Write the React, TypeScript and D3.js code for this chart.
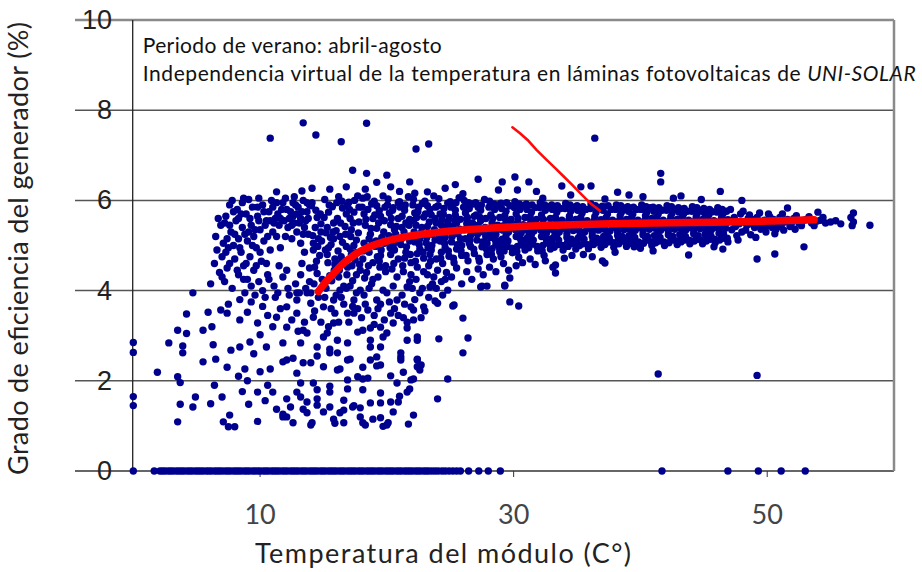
import React from 'react';
import * as d3 from 'd3';

const W = 922;
const H = 572;

const yTicks = [0, 2, 4, 6, 8, 10];
const xTicks = [10, 30, 50];

// readings lying on the zero line (module temperature only)
const zeroTemps = [
  0, 1.65, 2.1, 2.3, 2.5, 2.75, 2.95, 3.15, 3.4, 3.6, 3.8, 4.0, 4.25, 4.45, 4.65, 4.9, 5.1, 5.3, 5.5, 5.75,
  5.95, 6.15, 6.4, 6.6, 6.8, 7.0, 7.25, 7.45, 7.65, 7.9, 8.1, 8.3, 8.5, 8.75, 8.95, 9.15, 9.4, 9.6, 9.8,
  10.0, 10.25, 10.45, 10.65, 10.9, 11.1, 11.3, 11.5, 11.75, 11.95, 12.15, 12.4, 12.6, 12.8, 13.0, 13.25,
  13.45, 13.65, 13.9, 14.1, 14.3, 14.5, 14.75, 14.95, 15.15, 15.4, 15.6, 15.8, 16.0, 16.25, 16.45, 16.65,
  16.9, 17.1, 17.3, 17.5, 17.75, 17.95, 18.15, 18.4, 18.6, 18.8, 19.0, 19.25, 19.45, 19.65, 19.9, 20.1,
  20.3, 20.5, 20.75, 20.95, 21.15, 21.4, 21.6, 21.8, 22.0, 22.25, 22.45, 22.65, 22.9, 23.1, 23.3, 23.55,
  23.8, 24.05, 24.35, 24.6, 24.9, 25.2, 25.5, 25.8, 26.45, 27.25, 28.0, 28.95, 41.7, 46.9, 49.3, 51.1, 53.0,
];

// [temperature, efficiency]
const lowScatter = [
  [0, 2.85], [0, 2.63], [0, 1.65], [0, 1.45],
  [1.9, 2.19], [3.5, 2.09], [3.7, 1.96], [3.7, 1.48], [4.7, 1.42], [3.5, 1.09], [4.9, 1.64], [6.1, 1.49],
  [7.0, 1.64], [7.1, 1.09], [7.5, 0.98], [8.0, 0.98], [7.6, 1.24], [5.5, 2.42], [6.5, 2.48], [7.4, 2.3],
  [8.6, 1.76], [8.8, 2.26], [9.8, 1.75], [9.1, 1.48], [9.8, 1.1], [10.4, 1.56], [11.3, 1.37], [11.8, 1.26],
  [12.6, 1.07], [13.4, 1.37], [14.1, 1.07], [14.5, 1.6], [15.0, 1.31], [15.8, 1.15], [16.6, 1.07],
  [16.6, 1.35], [17.4, 1.45], [18.1, 1.07], [18.9, 1.15], [19.7, 0.99], [20.1, 1.07], [20.5, 1.31],
  [21.7, 1.04], [22.1, 1.24], [21.0, 1.66], [21.8, 1.82], [18.7, 1.51], [16.9, 1.82], [15.5, 1.88],
  [13.7, 1.53], [12.9, 1.75], [12.1, 1.6], [10.8, 2.26], [11.8, 2.42], [12.6, 2.5], [13.4, 2.4],
  [14.5, 2.55], [15.5, 2.7], [16.3, 2.26], [17.1, 2.48], [18.1, 2.04], [19.2, 2.33], [20.3, 2.11],
  [21.3, 2.19], [22.4, 2.48], [22.7, 2.35], [22.1, 2.04], [11.8, 1.2], [14.0, 1.02], [15.9, 1.06],
  [17.9, 1.2], [18.3, 1.02], [19.5, 1.18], [20.0, 1.02], [24.0, 1.6], [21.6, 1.75], [20.9, 1.53],
  [20.3, 1.53], [19.5, 1.51], [17.9, 1.4], [17.3, 1.42], [16.3, 1.29], [15.5, 1.42], [14.5, 1.46],
  [13.7, 1.29], [13.2, 1.64], [12.4, 1.42], [12.1, 1.2], [16.6, 1.57], [19.5, 1.73], [18.1, 1.8],
  [15.5, 1.75], [14.5, 1.8], [16.9, 2.02], [17.7, 2.09], [18.5, 2.06], [20.8, 1.95], [21.9, 2.02],
  [18.1, 2.3], [19.5, 2.35], [21.1, 2.46], [22.4, 2.31], [18.7, 2.46], [16.9, 2.46], [16.1, 2.24],
  [15.0, 2.31], [14.0, 2.4], [12.9, 2.17], [12.1, 2.46], [13.2, 1.95], [14.2, 1.95], [24.8, 2.04],
  [9.0, 2.0], [10.0, 2.2], [9.5, 2.6], [8.3, 2.1], [10.6, 1.9], [11.0, 1.75], [6.4, 1.9], [41.4, 2.15],
  [49.2, 2.12],
];

const midScatter = [
  [6.9, 3.57], [7.4, 3.5], [8.4, 3.35], [9.0, 3.52], [9.8, 3.28], [7.7, 2.68], [8.4, 2.75], [9.2, 2.86],
  [10.0, 3.02], [10.5, 2.75], [11.3, 3.41], [12.1, 3.19], [11.8, 2.84], [12.9, 3.5], [13.4, 3.12],
  [14.0, 3.72], [14.5, 2.75], [15.3, 3.06], [15.8, 3.28], [16.1, 2.62], [16.9, 2.84], [17.4, 3.5],
  [18.1, 3.12], [18.7, 2.75], [19.2, 2.53], [19.7, 2.97], [20.5, 3.28], [21.1, 2.62], [21.6, 2.9],
  [22.1, 3.57], [22.4, 2.97], [22.6, 2.24], [22.9, 3.64], [3.5, 3.12], [4.2, 3.48], [4.7, 3.95],
  [5.9, 3.52], [6.1, 4.15], [4.2, 3.05], [5.5, 3.12], [6.2, 3.2], [6.3, 2.8], [2.8, 2.84], [3.9, 2.77],
  [3.9, 2.62], [13.2, 2.84], [13.7, 3.06], [15.0, 2.97], [15.5, 2.62], [16.1, 2.9], [17.7, 3.08],
  [18.7, 2.9], [19.5, 2.75], [20.0, 3.06], [21.1, 2.53], [22.4, 2.9], [22.4, 2.46], [19.5, 3.19],
  [18.7, 3.17], [21.6, 3.17], [22.1, 3.35], [12.1, 3.64], [12.9, 3.79], [13.7, 3.95], [14.2, 3.41],
  [15.0, 3.64], [15.8, 3.79], [16.3, 4.01], [16.9, 3.5], [17.4, 3.79], [17.9, 4.01], [18.5, 3.57],
  [19.2, 3.79], [19.7, 4.01], [20.3, 3.5], [20.8, 3.79], [21.6, 4.08], [21.9, 3.64], [22.6, 3.95],
  [23.4, 4.08], [24.0, 3.72], [24.8, 4.01], [26.0, 3.39], [26.4, 2.95], [24.1, 2.93], [26.0, 2.62],
  [29.7, 3.75], [30.4, 3.66], [27.5, 4.1], [29.3, 4.1], [25.2, 3.66], [14.6, 3.85], [15.2, 4.05],
  [15.6, 3.6], [16.0, 3.9], [16.6, 3.7], [17.1, 4.1], [17.7, 3.6], [18.2, 3.9], [18.8, 4.15], [19.0, 3.45],
  [19.5, 3.7], [20.0, 3.95], [20.6, 3.6], [21.2, 3.9], [21.3, 3.4], [21.8, 4.2], [22.2, 3.8], [23.0, 3.55],
  [23.7, 4.3], [24.4, 3.9], [23.8, 3.77], [25.3, 3.68], [14.3, 3.55], [14.8, 3.3], [15.1, 3.85], [15.4, 3.2],
  [15.9, 3.5], [16.2, 3.3], [16.4, 3.85], [16.8, 4.05], [17.0, 3.3], [17.3, 3.65], [17.6, 3.95], [18.0, 3.4],
  [18.3, 3.7], [18.6, 4.05], [19.0, 3.25], [19.3, 3.6], [19.8, 3.35], [20.2, 3.75], [20.5, 4.1], [20.9, 3.45],
  [21.4, 3.7], [21.6, 3.3], [22.0, 4.05], [22.7, 3.4], [23.3, 3.85], [23.9, 4.05], [24.6, 4.25], [13.5, 3.3],
  [13.0, 3.1], [12.5, 3.35], [11.6, 3.6], [11.0, 3.2], [10.6, 3.45], [10.2, 3.65],
];

const leftCloud = [
  [6.4, 4.6], [6.6, 4.9], [6.5, 5.2], [6.8, 4.4], [6.9, 5.45], [7.0, 4.75], [7.1, 5.05], [7.2, 4.2],
  [7.3, 5.65], [7.5, 4.95], [7.4, 4.5], [7.6, 5.9], [7.7, 5.3], [7.8, 4.05], [7.9, 5.0], [7.8, 6.0],
  [8.0, 4.7], [8.1, 5.55], [8.2, 5.8], [8.3, 4.35], [8.3, 5.15], [8.5, 4.85], [8.6, 5.95], [8.6, 5.4],
  [8.7, 4.55], [8.8, 3.95], [8.9, 5.7], [9.0, 5.1], [9.0, 4.25], [9.1, 6.02], [9.2, 4.75], [9.3, 5.45],
  [9.4, 5.85], [9.5, 4.45], [9.5, 5.2], [9.6, 3.9], [9.7, 4.95], [9.8, 5.65], [9.9, 6.05], [9.9, 4.2],
  [10.0, 5.35], [10.1, 4.65], [10.2, 5.9], [10.3, 5.1], [10.4, 3.85], [10.5, 5.55], [10.6, 4.35],
  [10.7, 5.75], [10.8, 4.9], [10.9, 6.0], [11.0, 5.3], [11.1, 4.1], [11.2, 5.6], [11.3, 5.95], [11.4, 3.95],
  [11.5, 5.45], [11.7, 5.8], [11.8, 4.3], [11.9, 5.55], [12.0, 6.05], [12.2, 5.4], [12.3, 3.9], [12.4, 5.75],
  [12.6, 5.95], [12.7, 5.5], [12.8, 4.15], [12.9, 5.3], [13.0, 5.85], [13.1, 3.95], [13.2, 5.6], [13.4, 6.0],
  [13.5, 5.4], [13.6, 4.05], [13.7, 5.75], [13.8, 5.25], [13.9, 4.5], [12.1, 4.45], [11.6, 4.95],
  [10.2, 4.0], [9.3, 3.75], [8.4, 3.8], [7.5, 3.7], [13.3, 4.6], [12.5, 5.15], [6.7, 5.6], [7.0, 4.3],
  [7.2, 5.5], [7.6, 4.6], [7.9, 5.75], [8.0, 5.25], [8.4, 4.95], [8.5, 5.7], [8.8, 5.25], [8.9, 4.6],
  [9.2, 5.6], [9.4, 5.0], [9.7, 4.55], [9.8, 5.85], [10.0, 4.85], [10.3, 5.75], [10.6, 5.2], [10.8, 5.55],
  [11.0, 5.85], [11.3, 5.2], [11.5, 4.55], [11.8, 5.95], [12.0, 5.2], [12.3, 5.6], [12.9, 5.7], [13.2, 5.05],
  [13.6, 5.55], [13.9, 5.9], [8.2, 4.45], [9.6, 5.35], [10.5, 4.6], [7.4, 5.15], [8.7, 6.05], [11.4, 5.7],
  [12.7, 6.08], [13.5, 4.85], [12.1, 5.8], [12.5, 5.45], [12.8, 5.9], [13.1, 5.5], [13.3, 5.75], [13.7, 5.95],
  [13.8, 5.6], [13.4, 5.25], [12.6, 5.65], [11.6, 5.6], [11.1, 5.5], [10.4, 5.45], [9.9, 5.55], [9.1, 5.3],
  [8.3, 5.6], [7.6, 5.45], [7.3, 4.85], [8.7, 4.25], [9.3, 4.1], [10.7, 4.25], [11.2, 3.85], [12.2, 4.05],
  [12.9, 3.95], [13.2, 4.35], [13.9, 4.2], [14.0, 3.95],
];

const mainBand = [
  [14.1, 5.95], [14.5, 5.62], [14.8, 5.3], [14.2, 5.05], [14.7, 4.78], [14.3, 4.52], [14.9, 4.25], [14.4, 5.78], [14.6, 5.15], [14.2, 4.9], [14.8, 5.48], [14.5, 4.38],
  [15.1, 6.02], [15.4, 5.74], [15.8, 5.5], [15.2, 5.28], [15.6, 5.02], [15.3, 4.8], [15.9, 4.58], [15.5, 4.33], [15.1, 4.1], [15.7, 5.86], [15.3, 5.4], [15.8, 5.15], [15.4, 4.95], [15.9, 4.7],
  [16.2, 6.08], [16.5, 5.83], [16.1, 5.6], [16.7, 5.42], [16.3, 5.2], [16.8, 4.98], [16.4, 4.75], [16.9, 4.52], [16.2, 4.3], [16.6, 4.1], [16.0, 5.33], [16.5, 5.07], [16.8, 5.7], [16.3, 4.62], [16.9, 5.9],
  [17.0, 5.96], [17.4, 5.74], [17.8, 5.52], [17.2, 5.35], [17.6, 5.12], [17.1, 4.92], [17.5, 4.68], [17.9, 4.45], [17.3, 4.22], [17.7, 6.1], [17.4, 5.0], [17.8, 5.85], [17.1, 5.6], [17.6, 4.35], [17.2, 4.8],
  [18.1, 6.05], [18.5, 5.8], [18.9, 5.6], [18.3, 5.45], [18.7, 5.25], [18.2, 5.05], [18.6, 4.85], [18.9, 4.62], [18.4, 4.4], [18.8, 5.92], [18.2, 5.7], [18.6, 5.15], [18.4, 4.95], [18.9, 4.25], [18.1, 4.7],
  [19.0, 5.98], [19.4, 5.77], [19.8, 5.55], [19.2, 5.38], [19.6, 5.18], [19.1, 4.98], [19.5, 4.78], [19.9, 4.55], [19.3, 4.3], [19.7, 6.1], [19.5, 5.65], [19.2, 5.88], [19.8, 5.05], [19.4, 4.65], [19.9, 4.42],
  [20.1, 6.03], [20.5, 5.84], [20.9, 5.6], [20.3, 5.46], [20.7, 5.25], [20.2, 5.1], [20.6, 4.9], [20.9, 4.7], [20.4, 4.48], [20.8, 4.3], [20.2, 5.72], [20.6, 5.35], [20.3, 4.8], [20.9, 5.95], [20.5, 5.0],
  [21.0, 5.97], [21.4, 5.78], [21.8, 5.58], [21.2, 5.4], [21.6, 5.2], [21.1, 5.02], [21.5, 4.85], [21.9, 4.62], [21.3, 4.42], [21.7, 6.08], [21.5, 5.5], [21.2, 5.65], [21.8, 5.1], [21.4, 4.72], [21.9, 4.35],
  [22.1, 6.02], [22.5, 5.85], [22.9, 5.63], [22.3, 5.45], [22.7, 5.28], [22.2, 5.08], [22.6, 4.92], [22.9, 4.72], [22.4, 4.52], [22.8, 5.93], [22.2, 5.72], [22.6, 5.15], [22.4, 4.82], [22.9, 4.42], [22.1, 5.55],
  [23.0, 5.98], [23.4, 5.8], [23.8, 5.6], [23.2, 5.42], [23.6, 5.25], [23.1, 5.06], [23.5, 4.9], [23.9, 4.7], [23.3, 4.55], [23.7, 6.1], [23.5, 5.68], [23.2, 5.88], [23.8, 5.12], [23.4, 4.8], [23.9, 5.5],
  [24.1, 6.04], [24.5, 5.82], [24.9, 5.62], [24.3, 5.45], [24.7, 5.3], [24.2, 5.1], [24.6, 4.95], [24.9, 4.76], [24.4, 4.6], [24.8, 5.94], [24.2, 5.7], [24.6, 5.18], [24.3, 4.85], [24.8, 5.52], [24.5, 5.38],
  [25.0, 5.97], [25.4, 5.78], [25.8, 5.58], [25.2, 5.42], [25.6, 5.26], [25.1, 5.08], [25.5, 4.92], [25.9, 4.78], [25.3, 4.62], [25.7, 6.06], [25.4, 5.67], [25.2, 5.88], [25.8, 5.15], [25.5, 5.5], [25.9, 5.0],
  [26.1, 6.0], [26.5, 5.82], [26.9, 5.65], [26.3, 5.48], [26.7, 5.32], [26.2, 5.15], [26.6, 4.98], [26.9, 4.82], [26.4, 4.66], [26.8, 5.92], [26.2, 5.72], [26.6, 5.22], [26.3, 5.58], [26.8, 5.4], [26.5, 5.05],
  [27.0, 5.95], [27.4, 5.78], [27.8, 5.6], [27.2, 5.45], [27.6, 5.3], [27.1, 5.12], [27.5, 4.97], [27.9, 4.8], [27.3, 4.65], [27.7, 6.02], [27.4, 5.55], [27.2, 5.85], [27.8, 5.2], [27.5, 5.38], [27.9, 5.05],
  [28.1, 5.98], [28.5, 5.8], [28.9, 5.62], [28.3, 5.5], [28.7, 5.35], [28.2, 5.18], [28.6, 5.02], [28.9, 4.86], [28.4, 4.7], [28.8, 5.9], [28.2, 5.68], [28.6, 5.25], [28.4, 5.42], [28.8, 5.1], [28.3, 4.93],
  [29.0, 5.94], [29.4, 5.76], [29.8, 5.58], [29.2, 5.44], [29.6, 5.3], [29.1, 5.14], [29.5, 4.98], [29.9, 4.84], [29.3, 5.66], [29.7, 5.88], [29.4, 5.22], [29.2, 5.02], [29.8, 5.4], [29.5, 5.52], [29.0, 4.75],
  [30.1, 5.97], [30.5, 5.8], [30.9, 5.62], [30.3, 5.5], [30.7, 5.36], [30.2, 5.2], [30.6, 5.04], [30.9, 4.9], [30.4, 4.74], [30.8, 5.88], [30.2, 5.7], [30.6, 5.28], [30.4, 5.44], [30.8, 5.12], [30.3, 4.98],
  [31.0, 5.92], [31.4, 5.74], [31.8, 5.58], [31.2, 5.45], [31.6, 5.32], [31.1, 5.18], [31.5, 5.03], [31.9, 4.88], [31.3, 5.64], [31.7, 5.84], [31.4, 5.24], [31.2, 4.95], [31.8, 5.4], [31.5, 5.5], [31.0, 5.1],
  [32.1, 5.95], [32.5, 5.78], [32.9, 5.6], [32.3, 5.48], [32.7, 5.35], [32.2, 5.2], [32.6, 5.06], [32.9, 4.92], [32.4, 4.78], [32.8, 5.86], [32.2, 5.68], [32.6, 5.28], [32.4, 5.42], [32.8, 5.14], [32.3, 5.0],
  [33.0, 5.9], [33.4, 5.74], [33.8, 5.56], [33.2, 5.44], [33.6, 5.3], [33.1, 5.16], [33.5, 5.02], [33.9, 4.9], [33.3, 5.62], [33.7, 5.82], [33.4, 5.22], [33.2, 4.96], [33.8, 5.38], [33.5, 5.48], [33.0, 5.08],
  [34.1, 5.93], [34.5, 5.76], [34.9, 5.58], [34.3, 5.46], [34.7, 5.33], [34.2, 5.18], [34.6, 5.05], [34.9, 4.92], [34.4, 5.65], [34.8, 5.85], [34.2, 5.26], [34.6, 5.4], [34.4, 5.1], [34.8, 5.5], [34.3, 4.98],
  [35.0, 5.88], [35.4, 5.72], [35.8, 5.55], [35.2, 5.44], [35.6, 5.3], [35.1, 5.17], [35.5, 5.04], [35.9, 4.93], [35.3, 5.62], [35.7, 5.8], [35.4, 5.24], [35.2, 5.0], [35.8, 5.38], [35.5, 5.48], [35.0, 5.1],
  [36.1, 5.92], [36.5, 5.74], [36.9, 5.57], [36.3, 5.46], [36.7, 5.34], [36.2, 5.2], [36.6, 5.08], [36.9, 4.96], [36.4, 5.64], [36.8, 5.84], [36.2, 5.28], [36.6, 5.42], [36.4, 5.12], [36.8, 5.5], [36.3, 5.02],
  [37.0, 5.87], [37.4, 5.7], [37.8, 5.56], [37.2, 5.44], [37.6, 5.32], [37.1, 5.2], [37.5, 5.08], [37.9, 4.96], [37.3, 5.62], [37.7, 5.8], [37.4, 5.26], [37.2, 5.02], [37.8, 5.4], [37.5, 5.5], [37.0, 5.14],
  [38.1, 5.9], [38.5, 5.74], [38.9, 5.58], [38.3, 5.46], [38.7, 5.35], [38.2, 5.22], [38.6, 5.1], [38.9, 4.98], [38.4, 5.66], [38.8, 5.83], [38.2, 5.3], [38.6, 5.44], [38.4, 5.15], [38.8, 5.52], [38.3, 5.04],
  [39.0, 5.86], [39.4, 5.7], [39.8, 5.56], [39.2, 5.45], [39.6, 5.34], [39.1, 5.22], [39.5, 5.1], [39.9, 4.98], [39.3, 5.62], [39.7, 5.8], [39.4, 5.28], [39.2, 5.05], [39.8, 5.4], [39.5, 5.5], [39.0, 5.16],
  [40.1, 5.9], [40.5, 5.74], [40.9, 5.6], [40.3, 5.48], [40.7, 5.36], [40.2, 5.24], [40.6, 5.12], [40.9, 5.0], [40.4, 5.66], [40.8, 5.84], [40.2, 5.32], [40.6, 5.44], [40.4, 5.18], [40.8, 5.52],
  [41.0, 5.85], [41.4, 5.7], [41.8, 5.56], [41.2, 5.45], [41.6, 5.34], [41.1, 5.22], [41.5, 5.1], [41.9, 5.0], [41.3, 5.62], [41.7, 5.78], [41.4, 5.28], [41.2, 5.06], [41.8, 5.4], [41.5, 5.5],
  [42.1, 5.88], [42.5, 5.72], [42.9, 5.58], [42.3, 5.47], [42.7, 5.36], [42.2, 5.24], [42.6, 5.12], [42.9, 5.02], [42.4, 5.64], [42.8, 5.8], [42.2, 5.32], [42.6, 5.44], [42.4, 5.18], [42.8, 5.52],
  [43.0, 5.84], [43.4, 5.7], [43.8, 5.56], [43.2, 5.45], [43.6, 5.35], [43.1, 5.24], [43.5, 5.12], [43.9, 5.04], [43.3, 5.62], [43.7, 5.76], [43.4, 5.28], [43.2, 5.08], [43.8, 5.4], [43.5, 5.5],
  [44.1, 5.86], [44.5, 5.72], [44.9, 5.58], [44.3, 5.48], [44.7, 5.37], [44.2, 5.26], [44.6, 5.14], [44.9, 5.04], [44.4, 5.64], [44.8, 5.78], [44.2, 5.34], [44.6, 5.44], [44.4, 5.2], [44.8, 5.52],
  [45.0, 5.82], [45.4, 5.68], [45.8, 5.55], [45.2, 5.45], [45.6, 5.35], [45.1, 5.25], [45.5, 5.14], [45.9, 5.06], [45.3, 5.6], [45.7, 5.75], [45.4, 5.3], [45.2, 5.1], [45.8, 5.4], [45.5, 5.5],
  [46.1, 5.84], [46.5, 5.7], [46.9, 5.57], [46.3, 5.47], [46.7, 5.38], [46.2, 5.27], [46.6, 5.16], [46.9, 5.08], [46.4, 5.62], [46.8, 5.76], [46.2, 5.36], [46.6, 5.46], [46.4, 5.22],
];

// extra readings filling the core of the dense band
const mainCore = [
  [14.05, 5.88], [14.35, 5.4], [14.75, 5.7], [14.15, 5.22], [14.55, 4.98], [14.85, 5.1], [14.45, 4.65], [14.25, 4.15],
  [15.05, 5.62], [15.45, 5.9], [15.75, 5.3], [15.15, 4.9], [15.55, 5.18], [15.85, 4.45], [15.35, 4.62], [15.65, 4.22],
  [16.05, 5.95], [16.35, 5.5], [16.75, 5.25], [16.15, 4.88], [16.55, 4.66], [16.85, 4.35], [16.45, 5.98], [16.25, 4.45],
  [17.05, 5.8], [17.35, 5.5], [17.75, 5.28], [17.15, 5.2], [17.55, 4.84], [17.85, 4.58], [17.45, 6.0], [17.25, 4.55],
  [18.05, 5.85], [18.35, 5.58], [18.75, 5.38], [18.15, 4.88], [18.55, 4.55], [18.85, 5.05], [18.45, 6.08], [18.25, 4.28],
  [19.05, 5.68], [19.35, 5.5], [19.75, 5.3], [19.15, 5.1], [19.55, 4.9], [19.85, 5.85], [19.45, 4.52], [19.25, 4.75],
  [20.05, 5.9], [20.35, 5.6], [20.75, 5.42], [20.15, 5.22], [20.55, 4.6], [20.85, 5.08], [20.45, 5.78], [20.25, 4.95],
  [21.05, 5.85], [21.35, 5.3], [21.75, 5.45], [21.15, 5.15], [21.55, 4.97], [21.85, 4.8], [21.45, 5.9], [21.25, 4.55],
  [22.05, 5.9], [22.35, 5.62], [22.75, 5.4], [22.15, 5.3], [22.55, 5.02], [22.85, 4.85], [22.45, 5.75], [22.25, 4.65],
  [23.05, 5.7], [23.35, 5.52], [23.75, 5.35], [23.15, 5.18], [23.55, 5.0], [23.85, 5.85], [23.45, 4.65], [23.25, 4.95],
  [24.05, 5.88], [24.35, 5.58], [24.75, 5.42], [24.15, 5.22], [24.55, 5.05], [24.85, 4.88], [24.45, 5.7], [24.25, 4.72],
  [25.05, 5.85], [25.35, 5.55], [25.75, 5.36], [25.15, 5.2], [25.55, 5.02], [25.85, 4.88], [25.45, 5.95], [25.25, 4.72],
  [26.05, 5.85], [26.35, 5.62], [26.75, 5.5], [26.15, 5.35], [26.55, 5.12], [26.85, 4.92], [26.45, 5.95], [26.25, 4.78],
  [27.05, 5.68], [27.35, 5.62], [27.75, 5.4], [27.15, 5.25], [27.55, 5.08], [27.85, 4.92], [27.45, 5.9], [27.25, 4.72],
  [28.05, 5.85], [28.35, 5.6], [28.75, 5.45], [28.15, 5.3], [28.55, 5.12], [28.85, 4.96], [28.45, 5.92], [28.25, 4.8],
  [29.05, 5.82], [29.35, 5.58], [29.75, 5.48], [29.15, 5.34], [29.55, 5.1], [29.85, 4.94], [29.45, 5.95], [29.25, 4.88],
  [30.05, 5.84], [30.35, 5.6], [30.75, 5.46], [30.15, 5.35], [30.55, 5.14], [30.85, 4.98], [30.45, 5.92], [30.25, 4.86],
  [31.05, 5.8], [31.35, 5.55], [31.75, 5.48], [31.15, 5.32], [31.55, 5.12], [31.85, 4.98], [31.45, 5.9], [31.25, 5.05],
  [32.05, 5.84], [32.35, 5.58], [32.75, 5.45], [32.15, 5.34], [32.55, 5.16], [32.85, 5.02], [32.45, 5.9], [32.25, 4.88],
  [33.05, 5.8], [33.35, 5.52], [33.75, 5.46], [33.15, 5.34], [33.55, 5.12], [33.85, 5.0], [33.45, 5.88], [33.25, 5.22],
  [34.05, 5.82], [34.35, 5.56], [34.75, 5.42], [34.15, 5.36], [34.55, 5.14], [34.85, 5.02], [34.45, 5.9], [34.25, 5.06],
  [35.05, 5.78], [35.35, 5.52], [35.75, 5.45], [35.15, 5.34], [35.55, 5.14], [35.85, 5.02], [35.45, 5.86], [35.25, 5.24],
  [36.05, 5.82], [36.35, 5.55], [36.75, 5.44], [36.15, 5.36], [36.55, 5.16], [36.85, 5.04], [36.45, 5.88], [36.25, 5.1],
  [37.05, 5.78], [37.35, 5.52], [37.75, 5.46], [37.15, 5.36], [37.55, 5.16], [37.85, 5.06], [37.45, 5.88], [37.25, 5.1],
  [38.05, 5.8], [38.35, 5.56], [38.75, 5.42], [38.15, 5.38], [38.55, 5.2], [38.85, 5.08], [38.45, 5.88], [38.25, 5.12],
  [39.05, 5.76], [39.35, 5.52], [39.75, 5.46], [39.15, 5.36], [39.55, 5.18], [39.85, 5.08], [39.45, 5.85], [39.25, 5.12],
  [40.05, 5.8], [40.35, 5.56], [40.75, 5.44], [40.15, 5.38], [40.55, 5.2], [40.85, 5.08], [40.45, 5.86], [40.25, 5.05],
  [41.05, 5.76], [41.35, 5.52], [41.75, 5.46], [41.15, 5.38], [41.55, 5.18], [41.85, 5.08], [41.45, 5.84], [41.25, 5.14],
  [42.05, 5.78], [42.35, 5.56], [42.75, 5.46], [42.15, 5.4], [42.55, 5.2], [42.85, 5.1], [42.45, 5.86], [42.25, 5.06],
  [43.05, 5.74], [43.35, 5.52], [43.75, 5.46], [43.15, 5.38], [43.55, 5.2], [43.85, 5.12], [43.45, 5.82], [43.25, 5.16],
  [44.05, 5.76], [44.35, 5.56], [44.75, 5.46], [44.15, 5.4], [44.55, 5.22], [44.85, 5.12], [44.45, 5.84], [44.25, 5.1],
  [45.05, 5.72], [45.35, 5.52], [45.75, 5.46], [45.15, 5.38], [45.55, 5.22], [45.85, 5.14], [45.45, 5.8], [45.25, 5.18],
  [46.05, 5.74], [46.35, 5.56], [46.75, 5.48], [46.15, 5.42], [46.55, 5.26], [46.85, 5.16], [46.45, 5.8], [46.25, 5.12],
];

const bandFringe = [
  [22.3, 4.25], [22.8, 4.05], [23.2, 4.35], [23.6, 4.15], [24.0, 4.45], [24.3, 4.2], [24.7, 4.4], [25.1, 4.3],
  [25.5, 4.5], [25.9, 4.15], [26.3, 4.42], [26.7, 4.25], [27.2, 4.48], [27.6, 4.35], [28.1, 4.52], [28.6, 4.42],
  [29.2, 4.6], [29.6, 4.45], [30.2, 4.55], [30.7, 4.62], [31.3, 4.7], [31.7, 4.58], [32.5, 4.66], [33.1, 4.52],
  [33.3, 4.39], [33.3, 4.57], [34.0, 4.72], [34.6, 4.78], [35.5, 4.8], [36.2, 4.75], [37.0, 4.66], [37.2, 4.61],
  [38.0, 4.85], [39.5, 4.97], [40.0, 4.94], [41.0, 4.88], [43.8, 4.79], [45.8, 4.97], [46.5, 4.92], [49.2, 4.7],
  [50.6, 4.81], [52.9, 4.97], [27.4, 4.08], [27.9, 4.1], [29.3, 4.12], [29.7, 4.28],
];

const tailBand = [
  [47.1, 5.8], [47.4, 5.62], [47.8, 5.48], [47.2, 5.35], [47.6, 5.22], [47.9, 5.7], [47.3, 5.52], [47.7, 5.12],
  [48.1, 5.76], [48.5, 5.6], [48.9, 5.46], [48.3, 5.34], [48.7, 5.24], [48.2, 5.52], [48.6, 5.68], [49.0, 5.4],
  [49.4, 5.72], [49.8, 5.56], [49.2, 5.62], [49.6, 5.44], [49.9, 5.3], [49.3, 5.5], [49.1, 5.18], [50.1, 5.7],
  [50.5, 5.58], [50.9, 5.46], [50.3, 5.5], [50.7, 5.36], [50.2, 5.64], [50.6, 5.26], [51.0, 5.62], [51.4, 5.52],
  [51.8, 5.42], [51.2, 5.7], [51.6, 5.58], [51.9, 5.48], [51.3, 5.34], [52.1, 5.6], [52.5, 5.5], [52.9, 5.56],
  [52.3, 5.66], [52.7, 5.44], [52.2, 5.36], [53.1, 5.58], [53.5, 5.5], [53.9, 5.54], [53.3, 5.64], [53.7, 5.44],
  [54.2, 5.56], [54.6, 5.5], [55.0, 5.52], [55.4, 5.55], [55.8, 5.48], [54.4, 5.62], [56.6, 5.62], [56.7, 5.44],
  [47.5, 5.42], [48.0, 5.3], [48.4, 5.45], [48.8, 5.58], [49.5, 5.36], [50.0, 5.44], [50.4, 5.4], [51.1, 5.42],
];

const outliers = [
  [10.8, 7.38], [13.4, 7.72], [14.4, 7.45], [16.4, 7.3], [18.4, 7.71], [22.3, 7.14], [23.3, 7.25], [17.3, 6.67],
  [18.4, 6.6], [20.0, 6.56], [21.8, 6.41], [15.5, 6.25], [14.1, 6.27], [13.3, 6.21], [11.3, 6.19], [18.3, 6.25],
  [20.3, 6.3], [22.2, 6.16], [27.2, 6.47], [29.1, 6.41], [30.1, 6.52], [31.2, 6.41], [28.8, 6.23], [30.3, 6.23],
  [33.8, 6.32], [35.3, 6.3], [36.1, 6.32], [32.3, 6.05], [37.2, 6.03], [24.6, 6.27], [23.2, 6.19], [36.4, 7.38],
  [41.6, 6.6], [41.6, 6.41], [39.1, 6.12], [43.2, 6.1], [42.6, 6.05], [40.2, 6.08], [46.3, 6.2], [51.6, 5.83],
  [54.0, 5.74], [56.8, 5.72], [56.8, 5.52], [58.1, 5.45], [19.2, 6.4], [16.8, 6.3], [21.0, 6.2], [26.0, 6.15],
  [25.4, 6.35], [31.8, 6.2], [34.5, 6.12], [38.2, 6.18], [44.8, 6.02], [48.0, 6.0],
];

// red fitted trend through the cloud
const fitCurve = [
  [14.6, 3.98], [15.2, 4.2], [15.8, 4.38], [16.4, 4.56], [17.1, 4.72], [17.7, 4.84], [18.4, 4.94], [19.1, 5.02],
  [19.75, 5.08], [21.05, 5.17], [22.5, 5.24], [23.7, 5.28], [25.8, 5.34], [27.9, 5.38], [30.5, 5.42], [33.2, 5.45],
  [38.4, 5.49], [43.7, 5.51], [48.9, 5.53], [53.7, 5.57],
];

// thin hand-drawn pointer line
const pointerLine = [
  [29.9, 7.62], [30.5, 7.49], [31.1, 7.34], [31.8, 7.12], [32.6, 6.9], [33.3, 6.71], [33.95, 6.53],
  [34.6, 6.35], [35.25, 6.16], [36.0, 5.95], [36.8, 5.77],
];

const sansFont = 'Lato, "Open Sans", sans-serif';
const tickFont = '"Liberation Sans", Arial, sans-serif';

export default function App() {
  const x = d3.scaleLinear().domain([0, 60]).range([133.3, 894]);
  const y = d3.scaleLinear().domain([0, 10]).range([471, 20]);

  const points = [
    ...zeroTemps.map((t) => [t, 0]),
    ...lowScatter,
    ...midScatter,
    ...leftCloud,
    ...mainBand,
    ...mainCore,
    ...bandFringe,
    ...tailBand,
    ...outliers,
  ];

  const fitPath = d3
    .line<number[]>()
    .x((d) => x(d[0]))
    .y((d) => y(d[1]))
    .curve(d3.curveMonotoneX)(fitCurve);

  const pointerPath = d3
    .line<number[]>()
    .x((d) => x(d[0]))
    .y((d) => y(d[1]))(pointerLine);

  const gridLeft = 75;
  const gridRight = x(60);

  return (
    <svg
      width={W}
      height={H}
      style={{ position: 'absolute', left: 0, top: 0, background: '#fff' }}
    >
      {/* horizontal gridlines, they run through the tick labels */}
      {yTicks.map((v) => (
        <line
          key={'g' + v}
          x1={gridLeft}
          x2={gridRight}
          y1={y(v)}
          y2={y(v)}
          stroke={v === 10 ? '#8a8a8a' : v === 0 ? '#333' : '#555'}
          strokeWidth={v === 10 ? 2.5 : 1.5}
        />
      ))}
      <line x1={gridRight} x2={gridRight} y1={y(10)} y2={y(0)} stroke="#8a8a8a" strokeWidth={2.5} />
      <line x1={x(0) - 0.6} x2={x(0) - 0.6} y1={y(10)} y2={y(0)} stroke="#222" strokeWidth={1.3} />

      {yTicks.map((v) => (
        <text
          key={'yl' + v}
          x={112}
          y={y(v)}
          textAnchor="end"
          dominantBaseline="central"
          fontFamily={tickFont}
          fontSize={27}
          fill="#222"
        >
          {v}
        </text>
      ))}

      {xTicks.map((v) => (
        <g key={'xt' + v}>
          <line x1={x(v)} x2={x(v)} y1={y(0)} y2={y(0) + 6} stroke="#333" strokeWidth={1} />
          <text
            x={x(v)}
            y={513}
            textAnchor="middle"
            dominantBaseline="central"
            fontFamily={sansFont}
            fontSize={27}
            fill="#444"
          >
            {v}
          </text>
        </g>
      ))}

      {/* measurements */}
      <g fill="#00008f">
        {points.map((d, i) => (
          <circle key={i} cx={x(d[0])} cy={y(d[1])} r={3.7} />
        ))}
      </g>

      <path d={fitPath ?? ''} fill="none" stroke="#ff0000" strokeWidth={7.5} strokeLinecap="round" />
      <path d={pointerPath ?? ''} fill="none" stroke="#ff0a0a" strokeWidth={2.6} strokeLinecap="round" strokeLinejoin="round" />

      <text x={142.7} y={52.7} fontFamily={sansFont} fontSize={21} fill="#111" textLength={299} lengthAdjust="spacing">
        Periodo de verano: abril-agosto
      </text>
      <text x={142.7} y={80.7} fontFamily={sansFont} fontSize={21} fill="#111" textLength={773} lengthAdjust="spacing">
        Independencia virtual de la temperatura en láminas fotovoltaicas de <tspan fontStyle="italic">UNI-SOLAR</tspan>
      </text>

      <text
        transform="translate(28,248.5) rotate(-90)"
        textAnchor="middle"
        fontFamily={sansFont}
        fontSize={27}
        fill="#222"
        textLength={453}
        lengthAdjust="spacing"
      >
        Grado de eficiencia del generador (%)
      </text>
      <text
        x={443}
        y={563}
        textAnchor="middle"
        fontFamily={sansFont}
        fontSize={27}
        fill="#222"
        textLength={376}
        lengthAdjust="spacing"
      >
        Temperatura del módulo (C°)
      </text>
    </svg>
  );
}
